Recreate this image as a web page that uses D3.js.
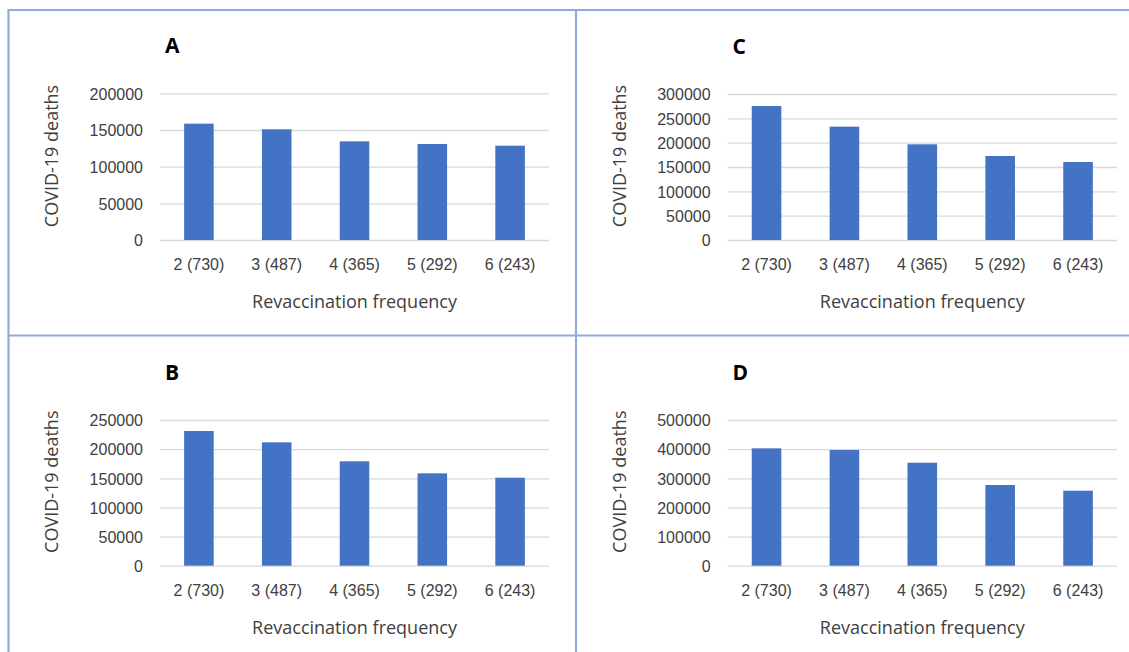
<!DOCTYPE html>
<html>
<head>
<meta charset="utf-8">
<script src="https://cdn.jsdelivr.net/npm/d3@7"></script>
<style>
  body { margin: 0; background: #fff; }
  svg { display: block; font-family: "Open Sans", sans-serif; }
  .tick text { fill: #404040; }
</style>
</head>
<body>
<div id="chart"></div>
<script>
// revaccination frequency, per year (interval in days)
const categories = ["2 (730)", "3 (487)", "4 (365)", "5 (292)", "6 (243)"]

// COVID-19 deaths
const deathsA = [158600, 150900, 134500, 130900, 128600]
const deathsB = [231100, 211700, 179100, 158500, 151000]
const deathsC = [275300, 232900, 196600, 172600, 160300]
const deathsD = [402700, 397000, 353500, 276900, 257400]

// y tick labels per panel
const ticksA = [0, 50000, 100000, 150000, 200000]
const ticksB = [0, 50000, 100000, 150000, 200000, 250000]
const ticksC = [0, 50000, 100000, 150000, 200000, 250000, 300000]
const ticksD = [0, 100000, 200000, 300000, 400000, 500000]

const width = 1129
const height = 652

const svg = d3.select("#chart")
    .append("svg")
    .attr("width", width)
    .attr("height", height)

// panel frame lines
const frame = "#8faadc"
const lines = [
    [8, 10, width, 10],
    [8.5, 9, 8.5, height],
    [576, 9, 576, height],
    [8, 335.5, width, 335.5]
]
svg.selectAll("line.frame")
    .data(lines)
    .enter()
    .append("line")
    .attr("class", "frame")
    .attr("x1", d => d[0]).attr("y1", d => d[1])
    .attr("x2", d => d[2]).attr("y2", d => d[3])
    .style("stroke", frame)
    .style("stroke-width", 2.2)

const panels = [
    {letter: "A", values: deathsA, ticks: ticksA, x0: 160, x1: 549, top: 93.3, bottom: 240},
    {letter: "C", values: deathsC, ticks: ticksC, x0: 727.6, x1: 1117, top: 94, bottom: 240},
    {letter: "B", values: deathsB, ticks: ticksB, x0: 160, x1: 549, top: 420, bottom: 565.7},
    {letter: "D", values: deathsD, ticks: ticksD, x0: 727.6, x1: 1117, top: 420, bottom: 565.7}
]

const drawPanel = p => {
    const g = svg.append("g")

    const x = d3.scaleBand()
        .domain(categories)
        .range([p.x0, p.x1])
        .paddingInner(0.62)
        .paddingOuter(0.31)

    const y = d3.scaleLinear()
        .domain([0, d3.max(p.ticks)])
        .range([p.bottom, p.top])

    // gridlines + tick labels
    const yAxis = g.append("g")
        .attr("transform", `translate(${p.x0},0)`)
        .call(d3.axisLeft(y)
            .tickValues(p.ticks)
            .tickFormat(d3.format("d"))
            .tickSize(-(p.x1 - p.x0))
            .tickPadding(17))
    yAxis.select(".domain").remove()
    yAxis.selectAll(".tick line")
        .style("stroke", "#d9d9d9")
        .style("stroke-width", 1.3)
    yAxis.selectAll(".tick text")
        .style("font-size", "16px")
        .attr("dy", "0.36em")

    // bars
    g.selectAll("rect")
        .data(p.values)
        .enter()
        .append("rect")
        .attr("x", (d, i) => x(categories[i]))
        .attr("y", d => y(d))
        .attr("width", x.bandwidth())
        .attr("height", d => y(0) - y(d))
        .style("fill", "#4472c4")

    // category labels
    const xAxis = g.append("g")
        .attr("transform", `translate(0,${p.bottom})`)
        .call(d3.axisBottom(x).tickSize(0).tickPadding(19))
    xAxis.select(".domain").remove()
    xAxis.selectAll(".tick text")
        .style("font-size", "16px")

    // axis titles
    g.append("text")
        .attr("x", (p.x0 + p.x1) / 2)
        .attr("y", p.bottom + 68)
        .attr("text-anchor", "middle")
        .style("font-size", "18px")
        .style("fill", "#404040")
        .text("Revaccination frequency")

    g.append("text")
        .attr("transform", `translate(${p.x0 - 102},${p.bottom - 84}) rotate(-90)`)
        .attr("text-anchor", "middle")
        .style("font-size", "18px")
        .style("fill", "#404040")
        .text("COVID-19 deaths")

    // panel letter
    g.append("text")
        .attr("x", p.x0 + 5)
        .attr("y", p.top - 40)
        .style("font-size", "21px")
        .style("font-weight", "bold")
        .style("fill", "#000")
        .text(p.letter)
}

panels.forEach(drawPanel)
</script>
</body>
</html>
